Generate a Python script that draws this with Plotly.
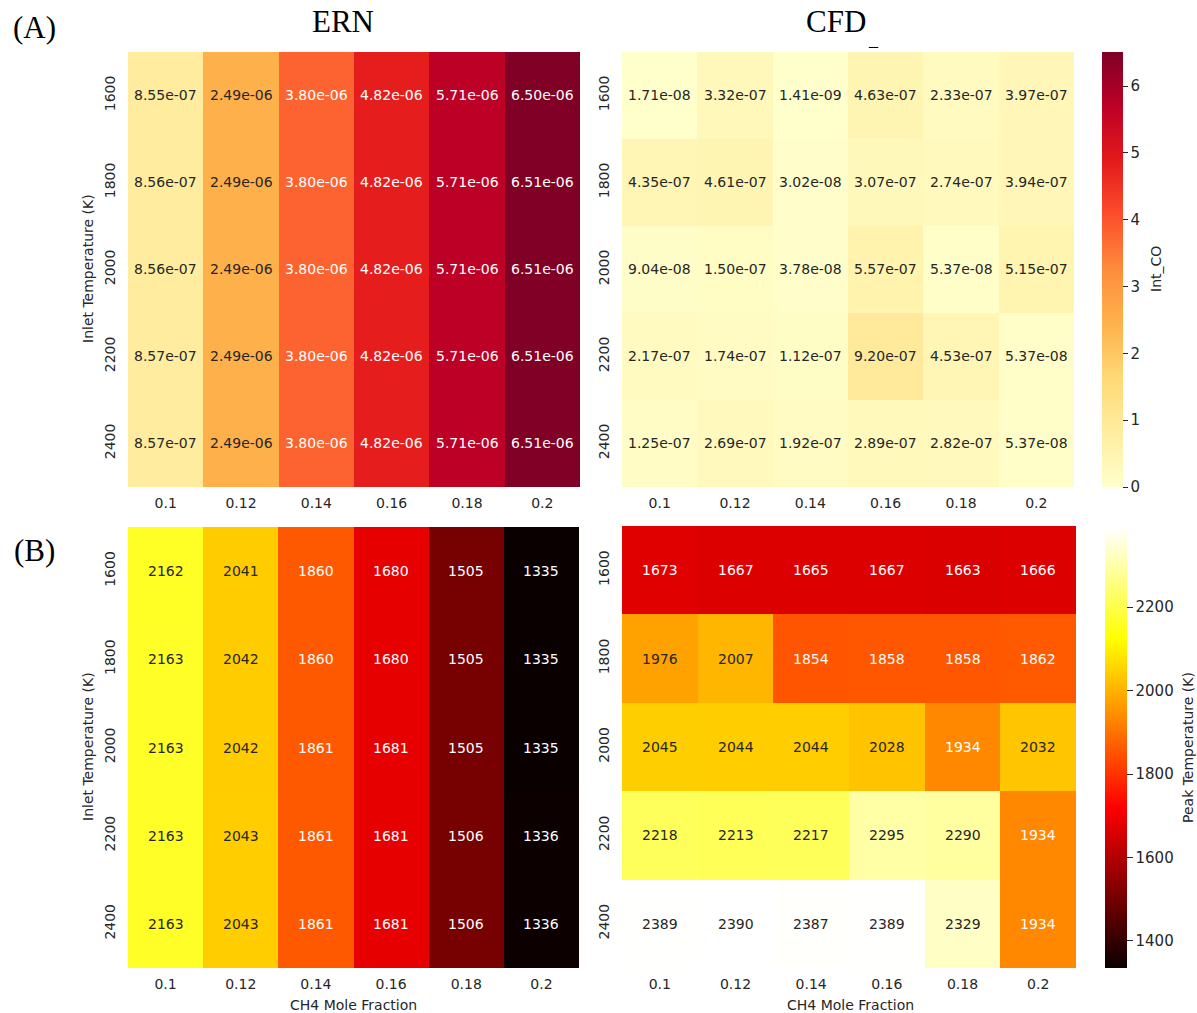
import plotly.graph_objects as go

# ---- data -------------------------------------------------------------
ch4_fraction = ["0.1", "0.12", "0.14", "0.16", "0.18", "0.2"]
inlet_temp = ["1600", "1800", "2000", "2200", "2400"]

ern_int_co = [
    [8.55e-07, 2.49e-06, 3.80e-06, 4.82e-06, 5.71e-06, 6.50e-06],
    [8.56e-07, 2.49e-06, 3.80e-06, 4.82e-06, 5.71e-06, 6.51e-06],
    [8.56e-07, 2.49e-06, 3.80e-06, 4.82e-06, 5.71e-06, 6.51e-06],
    [8.57e-07, 2.49e-06, 3.80e-06, 4.82e-06, 5.71e-06, 6.51e-06],
    [8.57e-07, 2.49e-06, 3.80e-06, 4.82e-06, 5.71e-06, 6.51e-06],
]
cfd_int_co = [
    [1.71e-08, 3.32e-07, 1.41e-09, 4.63e-07, 2.33e-07, 3.97e-07],
    [4.35e-07, 4.61e-07, 3.02e-08, 3.07e-07, 2.74e-07, 3.94e-07],
    [9.04e-08, 1.50e-07, 3.78e-08, 5.57e-07, 5.37e-08, 5.15e-07],
    [2.17e-07, 1.74e-07, 1.12e-07, 9.20e-07, 4.53e-07, 5.37e-08],
    [1.25e-07, 2.69e-07, 1.92e-07, 2.89e-07, 2.82e-07, 5.37e-08],
]
ern_peak_t = [
    [2162, 2041, 1860, 1680, 1505, 1335],
    [2163, 2042, 1860, 1680, 1505, 1335],
    [2163, 2042, 1861, 1681, 1505, 1335],
    [2163, 2043, 1861, 1681, 1506, 1336],
    [2163, 2043, 1861, 1681, 1506, 1336],
]
cfd_peak_t = [
    [1673, 1667, 1665, 1667, 1663, 1666],
    [1976, 2007, 1854, 1858, 1858, 1862],
    [2045, 2044, 2044, 2028, 1934, 2032],
    [2218, 2213, 2217, 2295, 2290, 1934],
    [2389, 2390, 2387, 2389, 2329, 1934],
]

co_ticks = [0, 1e-6, 2e-6, 3e-6, 4e-6, 5e-6, 6e-6]
co_tick_text = ["0", "1", "2", "3", "4", "5", "6"]
t_ticks = [1400, 1600, 1800, 2000, 2200]

# ---- colour maps ------------------------------------------------------
YLORRD = [
    (0.000, (255, 255, 204)), (0.125, (255, 237, 160)), (0.250, (254, 217, 118)),
    (0.375, (254, 178, 76)), (0.500, (253, 141, 60)), (0.625, (252, 78, 42)),
    (0.750, (227, 26, 28)), (0.875, (189, 0, 38)), (1.000, (128, 0, 38)),
]
HOT = [
    (0.000, (11, 0, 0)), (0.365079, (255, 0, 0)),
    (0.746032, (255, 255, 0)), (1.000, (255, 255, 255)),
]


def to_plotly(scale):
    return [[p, "rgb(%d,%d,%d)" % c] for p, c in scale]


def sample(scale, t):
    t = min(max(t, 0.0), 1.0)
    for (p0, c0), (p1, c1) in zip(scale[:-1], scale[1:]):
        if p0 <= t <= p1:
            f = 0 if p1 == p0 else (t - p0) / (p1 - p0)
            return [c0[i] + f * (c1[i] - c0[i]) for i in range(3)]
    return list(scale[-1][1])


def luminance(rgb):
    lin = []
    for c in rgb:
        c = c / 255.0
        lin.append(c / 12.92 if c <= 0.03928 else ((c + 0.055) / 1.055) ** 2.4)
    return 0.2126 * lin[0] + 0.7152 * lin[1] + 0.0722 * lin[2]


co_min, co_max = 0.0, max(max(r) for r in ern_int_co + cfd_int_co)
t_min = min(min(r) for r in ern_peak_t + cfd_peak_t)
t_max = max(max(r) for r in ern_peak_t + cfd_peak_t)

W, H = 1197, 1013


def px_x(a, b):
    return [a / W, b / W]


def px_y(top, bottom):
    return [1 - bottom / H, 1 - top / H]


panels = [
    # (z, axis suffix, x domain, y domain, scale, vmin, vmax, fmt)
    (ern_int_co, "", px_x(128, 580), px_y(52, 487), YLORRD, co_min, co_max, "{:.2e}"),
    (cfd_int_co, "2", px_x(622, 1074), px_y(52, 487), YLORRD, co_min, co_max, "{:.2e}"),
    (ern_peak_t, "3", px_x(128, 579), px_y(527, 968), HOT, t_min, t_max, "{:d}"),
    (cfd_peak_t, "4", px_x(622, 1076), px_y(526, 968), HOT, t_min, t_max, "{:d}"),
]

fig = go.Figure()
TICK_FONT = dict(family="DejaVu Sans", size=14, color="#262626")
CB_TICK_FONT = dict(family="DejaVu Sans", size=15, color="#262626")
annotations = []
layout = {}

for idx, (z, ax, xd, yd, scale, vmin, vmax, fmt) in enumerate(panels):
    cbar = None
    show = False
    if idx == 1:
        show = True
        cbar = dict(
            x=1102 / W, xanchor="left", y=1 - 52 / H, yanchor="top",
            len=435, lenmode="pixels", thickness=21, thicknessmode="pixels",
            xpad=0, ypad=0, outlinewidth=0,
            tickvals=co_ticks, ticktext=co_tick_text,
            ticks="outside", ticklen=5, tickcolor="#262626",
            tickfont=CB_TICK_FONT,
        )
    elif idx == 3:
        show = True
        cbar = dict(
            x=1105 / W, xanchor="left", y=1 - 528 / H, yanchor="top",
            len=440, lenmode="pixels", thickness=22, thicknessmode="pixels",
            xpad=0, ypad=0, outlinewidth=0, tickvals=t_ticks,
            ticks="outside", ticklen=6, tickcolor="#262626",
            tickfont=CB_TICK_FONT,
        )
    fig.add_trace(go.Heatmap(
        z=z, x=ch4_fraction, y=inlet_temp,
        colorscale=to_plotly(scale), zmin=vmin, zmax=vmax,
        showscale=show, colorbar=cbar,
        xaxis="x" + ax, yaxis="y" + ax, hoverinfo="skip",
    ))
    layout["xaxis" + ax] = dict(
        domain=xd, anchor="y" + ax, type="category", automargin=False,
        range=[-0.5, len(ch4_fraction) - 0.5],
        showgrid=False, zeroline=False,
        ticks="outside", ticklen=3, tickcolor="rgba(0,0,0,0)",
        tickfont=TICK_FONT, showline=False, fixedrange=True,
    )
    layout["yaxis" + ax] = dict(
        domain=yd, anchor="x" + ax, type="category", automargin=False,
        range=[len(inlet_temp) - 0.5, -0.5],
        showgrid=False, zeroline=False,
        ticks="outside", ticklen=6,
        tickcolor="rgba(0,0,0,0)", tickangle=-90,
        tickfont=TICK_FONT, showline=False, fixedrange=True,
    )
    # cell labels (placed by category index), coloured for contrast
    for i, row in enumerate(z):
        for j, v in enumerate(row):
            rgb = sample(scale, (v - vmin) / (vmax - vmin))
            col = "#262626" if luminance(rgb) > 0.408 else "white"
            annotations.append(dict(
                x=j, y=i, xref="x" + ax, yref="y" + ax,
                text=fmt.format(v), showarrow=False,
                xanchor="center", yanchor="middle",
                font=dict(family="DejaVu Sans", size=14, color=col),
            ))

SERIF = dict(family="Liberation Serif", size=31, color="black")
LABEL = dict(family="DejaVu Sans", size=14, color="#262626")


def paper_text(x, y, text, font, angle=0):
    return dict(x=x / W, y=1 - y / H, xref="paper", yref="paper", text=text,
                xanchor="center", yanchor="middle", textangle=angle,
                showarrow=False, font=font)


annotations += [
    paper_text(343, 22, "ERN", SERIF),
    paper_text(836, 22, "CFD", SERIF),
    paper_text(873, 40, "_", dict(family="Liberation Serif", size=18, color="black")),
    paper_text(34, 28, "(A)", SERIF),
    paper_text(34, 550, "(B)", SERIF),
    paper_text(88, 269, "Inlet Temperature (K)", LABEL, -90),
    paper_text(88, 747, "Inlet Temperature (K)", LABEL, -90),
    paper_text(353, 1005, "CH4 Mole Fraction", LABEL),
    paper_text(850, 1005, "CH4 Mole Fraction", LABEL),
    paper_text(1156, 269, "Int_CO", LABEL, -90),
    paper_text(1188, 748, "Peak Temperature (K)", LABEL, -90),
]

fig.update_layout(
    width=W, height=H,
    margin=dict(l=0, r=0, t=0, b=0, autoexpand=False),
    paper_bgcolor="white", plot_bgcolor="white",
    annotations=annotations, showlegend=False,
    **layout,
)

fig.write_html("out.html")
